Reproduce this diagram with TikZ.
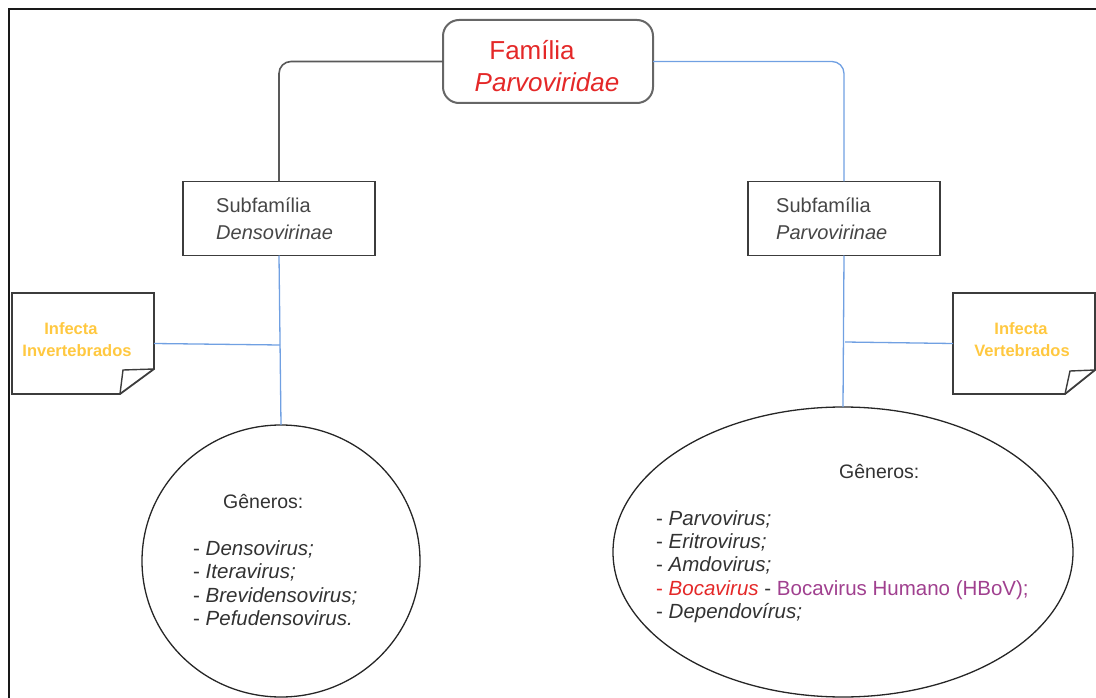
\documentclass[tikz,border=0pt]{standalone}
\usepackage{fontspec}
\setmainfont{Liberation Sans}
\usetikzlibrary{shapes.geometric}
\definecolor{linkblue}{RGB}{112,160,226}
\definecolor{famred}{RGB}{228,40,40}
\definecolor{noteyellow}{RGB}{255,200,64}
\definecolor{txtgray}{RGB}{70,70,70}
\definecolor{listgray}{RGB}{50,50,50}
\definecolor{hbovpurple}{RGB}{160,64,143}
\definecolor{boxgray}{RGB}{60,60,60}
\tikzset{
  famshape/.style={draw=black!60, line width=2pt, rounded corners=16pt, minimum width=210pt, minimum height=83pt, inner sep=0pt, outer sep=0pt},
  subbox/.style={draw=boxgray, line width=1.8pt, minimum width=192pt, minimum height=74pt, inner sep=0pt, outer sep=0pt},
  notearea/.style={minimum width=142pt, minimum height=101pt, inner sep=0pt, outer sep=0pt},
  noteline/.style={draw=boxgray, line width=1.8pt, line join=miter},
  genshape/.style={draw=black!85, line width=1.3pt, ellipse, inner sep=0pt, outer sep=0pt},
  blueline/.style={draw=linkblue, line width=1.3pt},
  grayline/.style={draw=black!65, line width=1.6pt},
  famtxt/.style={text=famred, font=\fontsize{26}{31}\selectfont, anchor=base, inner sep=0pt},
  subtxt/.style={text=txtgray, font=\fontsize{20}{24}\selectfont, anchor=base west, inner sep=0pt},
  notetxt/.style={text=noteyellow, font=\bfseries\fontsize{16.5}{20}\selectfont, anchor=base, inner sep=0pt},
  headtxt/.style={text=listgray, font=\fontsize{19.5}{23}\selectfont, anchor=base west, inner sep=0pt},
  listtxt/.style={text=listgray, font=\fontsize{20.5}{23}\selectfont, anchor=base west, inner sep=0pt}
}
\begin{document}
\begin{tikzpicture}[x=1pt,y=-1pt]
\useasboundingbox (0,0) rectangle (1096,698);
% frame
\draw[line width=2pt, black!90] (9,698) -- (9,9) -- (1096,9);

% family
\node[famshape] (fam) at (548,61.5) {};
\node[famtxt] (famA) at (532,60) {Família};
\node[famtxt] (famB) at (547,92) {\itshape Parvoviridae};

% subfamilies
\node[subbox] (sub1) at (279,218.5) {};
\node[subtxt] (sub1a) at (216,212) {Subfamília};
\node[subtxt] (sub1b) at (216,240) {\itshape Densovirinae};
\node[subbox] (sub2) at (844,218.5) {};
\node[subtxt] (sub2a) at (776,212) {Subfamília};
\node[subtxt] (sub2b) at (776,240) {\itshape Parvovirinae};

% notes
\node[notearea] (n1) at (83,343.5) {};
\draw[noteline] (n1.north west) -- (n1.north east) -- ++(0,76) -- ([xshift=-34pt]n1.south east) -- (n1.south west) -- cycle;
\draw[noteline, line width=1.4pt] ([yshift=25pt]n1.south east) -- ++(-31,1) -- ([xshift=-34pt]n1.south east);
\node[notetxt] (n1a) at (71,334) {Infecta};
\node[notetxt] (n1b) at (77,356) {Invertebrados};

\node[notearea] (n2) at (1024,343.5) {};
\draw[noteline] (n2.north west) -- (n2.north east) -- ++(0,77) -- ([xshift=-30pt]n2.south east) -- (n2.south west) -- cycle;
\draw[noteline, line width=1.4pt] ([yshift=24pt]n2.south east) -- ++(-25,1) -- ([xshift=-30pt]n2.south east);
\node[notetxt] (n2a) at (1021,334) {Infecta};
\node[notetxt] (n2b) at (1022,356) {Vertebrados};

% genera
\node[genshape, minimum width=278pt, minimum height=272pt] (g1) at (281,561) {};
\node[headtxt] (g1h) at (223,508) {Gêneros:};
\node[listtxt] (g1l1) at (193,555) {- \textit{Densovirus;}};
\node[listtxt] (g1l2) at (193,578.5) {- \textit{Iteravirus;}};
\node[listtxt] (g1l3) at (193,602) {- \textit{Brevidensovirus;}};
\node[listtxt] (g1l4) at (193,625.5) {- \textit{Pefudensovirus.}};

\node[genshape, minimum width=460pt, minimum height=290pt] (g2) at (843,552) {};
\node[headtxt] (g2h) at (839,478) {Gêneros:};
\node[listtxt] (g2l1) at (656,525) {- \textit{Parvovirus;}};
\node[listtxt] (g2l2) at (656,548) {- \textit{Eritrovirus;}};
\node[listtxt] (g2l3) at (656,571.5) {- \textit{Amdovirus;}};
\node[listtxt] (g2l4) at (656,595) {\textcolor{famred}{- \textit{Bocavirus}} - \textcolor{hbovpurple}{Bocavirus Humano (HBoV);}};
\node[listtxt] (g2l5) at (656,618) {- \textit{Dependovírus;}};

% connectors
\draw[grayline, rounded corners=12pt] (fam.west) -| (sub1.north);
\draw[blueline, rounded corners=12pt] (fam.east) -| (sub2.north);
\draw[blueline] (sub1.south) -- (g1.north);
\draw[blueline] (sub2.south) -- (g2.north);
\coordinate (j1) at (280,345);
\coordinate (j2) at (845,342);
\draw[blueline] (n1.east) -- (j1);
\draw[blueline] (n2.west) -- (j2);
\end{tikzpicture}
\end{document}
